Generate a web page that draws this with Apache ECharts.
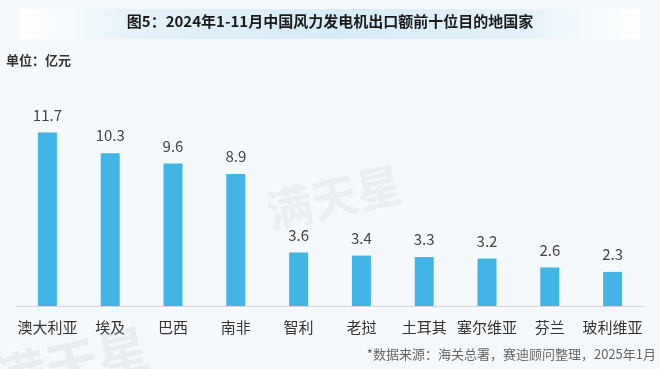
<!DOCTYPE html>
<html>
<head>
<meta charset="utf-8">
<script src="https://cdn.jsdelivr.net/npm/echarts@6/dist/echarts.min.js"></script>
<style>
html,body{margin:0;padding:0;background:#f6f9fc;}
#c{width:660px;height:369px;}
</style>
</head>
<body>
<div id="c"></div>
<script>
const categories = ['澳大利亚','埃及','巴西','南非','智利','老挝','土耳其','塞尔维亚','芬兰','玻利维亚'];
const values = [11.7, 10.3, 9.6, 8.9, 3.6, 3.4, 3.3, 3.2, 2.6, 2.3];
const titleText = '图5：2024年1-11月中国风力发电机出口额前十位目的地国家';
const unitText = '单位：亿元';
const sourceText = '*数据来源：海关总署，赛迪顾问整理，2025年1月';

const chart = echarts.init(document.getElementById('c'));
const font = '"Noto Sans CJK SC","Noto Sans",sans-serif';
chart.setOption({
  backgroundColor: '#f6f9fc',
  animation: false,
  graphic: [
    {type:'rect', left:20, top:9, shape:{width:620, height:30},
     style:{fill:new echarts.graphic.LinearGradient(0,0,1,0,[
       {offset:0,color:'rgba(255,255,255,0.9)'},
       {offset:0.2,color:'#e3f1f9'},
       {offset:0.5,color:'#d6ecf8'},
       {offset:0.8,color:'#e3f1f9'},
       {offset:1,color:'rgba(255,255,255,0.9)'}])}, z:0},
    {type:'text', left:'center', top:14, style:{text:titleText, font:'bold 15px '+font, fill:'#1a1a1a'}, z:2},
    {type:'text', left:6, top:54, style:{text:unitText, font:'bold 13px '+font, fill:'#333'}, z:2},
    {type:'text', right:4, top:348, style:{text:sourceText, font:'13px '+font, fill:'#666'}, z:2},
    {type:'text', x:262, y:190, rotation:0.22, style:{text:'满天星', font:'bold 46px '+font, fill:'rgba(160,170,180,0.13)'}, z:1},
    {type:'text', x:-10, y:355, rotation:0.22, style:{text:'满天星', font:'bold 52px '+font, fill:'rgba(160,170,180,0.15)'}, z:1}
  ],
  grid: {left:16, right:16, top:128, bottom:63, containLabel:false},
  xAxis: {
    type:'category', data:categories,
    axisLine:{show:true, lineStyle:{color:'#d4d8dc', width:1}},
    axisTick:{show:false},
    axisLabel:{color:'#333', fontSize:15, fontFamily:font, margin:14, interval:0}
  },
  yAxis: {type:'value', min:0, max:12, show:false, splitLine:{show:false}},
  series: [{
    type:'bar', data:values, barWidth:19,
    itemStyle:{color:'#41b6e6'},
    label:{show:true, position:'top', distance:10, color:'#444', fontSize:15, fontFamily:font}
  }]
});
</script>
</body>
</html>
